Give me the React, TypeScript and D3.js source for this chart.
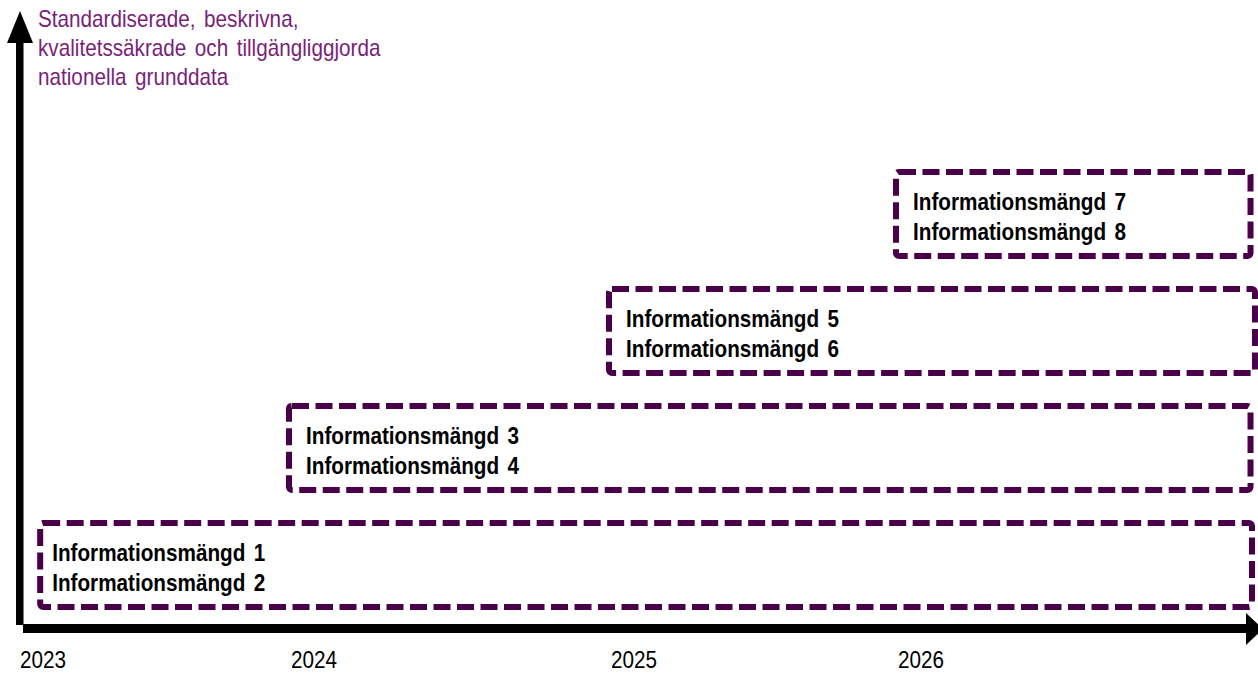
import React from 'react'
import * as d3 from 'd3'

// y-axis title, three lines
const titleLines = [
  'Standardiserade, beskrivna,',
  'kvalitetssäkrade och tillgängliggjorda',
  'nationella grunddata',
]

// year ticks on the time axis
const yearLabels = ['2023', '2024', '2025', '2026']
const yearValues = [2023, 2024, 2025, 2026]

// one dashed box per step (start / end in years, level from the bottom)
const boxStart = [2023.075, 2024, 2025, 2026.0]
const boxEnd = [2027.2, 2027.195, 2027.21, 2027.195]
const boxLevel = [0, 1, 2, 3]
const boxText = [
  ['Informationsmängd 1', 'Informationsmängd 2'],
  ['Informationsmängd 3', 'Informationsmängd 4'],
  ['Informationsmängd 5', 'Informationsmängd 6'],
  ['Informationsmängd 7', 'Informationsmängd 8'],
]

const W = 1258
const H = 673
const PURPLE = '#4a0048'
const TITLE_PURPLE = '#7a1f78'
const FONT = '"Liberation Sans", Arial, sans-serif'

export default function App() {
  const x = d3
    .scaleLinear()
    .domain([2023, 2024, 2025, 2026, 2027.2])
    .range([20, 289, 609, 896, 1252])

  const y = d3.scaleLinear().domain([0, 1]).range([523, 406])
  const boxH = 84

  const squash = (tx: number, ty: number) => `translate(${tx},${ty}) scale(0.9,1)`

  return (
    <svg
      width={W}
      height={H}
      style={{ position: 'absolute', left: 0, top: 0, background: '#fff' }}
      fontFamily={FONT}
    >
      {/* y axis arrow */}
      <rect x={16} y={40} width={7.5} height={585} fill="#000" />
      <polygon points="7,43 33,43 20,11" fill="#000" />

      {/* x axis arrow */}
      <rect x={23} y={624} width={1225} height={9} fill="#000" />
      <polygon points="1246,613 1246,645 1263,629" fill="#000" />

      {titleLines.map((t, i) => (
        <text
          key={t}
          transform={squash(38, 27 + i * 29)}
          fontSize={23}
          fill={TITLE_PURPLE}
          wordSpacing={3}
        >
          {t}
        </text>
      ))}

      {boxStart.map((s, i) => {
        const x0 = x(s)
        const x1 = x(boxEnd[i])
        const top = y(boxLevel[i])
        return (
          <g key={i}>
            <rect
              x={x0}
              y={top}
              width={x1 - x0}
              height={boxH}
              rx={3}
              fill="none"
              stroke={PURPLE}
              strokeWidth={6}
              strokeDasharray="17 6.5"
            />
            {boxText[i].map((t, j) => (
              <text
                key={t}
                transform={squash(x0 + (i === 0 ? 12 : 17), top + 38 + j * 30)}
                fontSize={23}
                fontWeight="bold"
                fill="#000"
                wordSpacing={3}
              >
                {t}
              </text>
            ))}
          </g>
        )
      })}

      {yearLabels.map((lab, i) => (
        <text
          key={lab}
          transform={squash(x(yearValues[i]) + (i === 0 ? 0 : 2), 668)}
          fontSize={23}
          fill="#000"
        >
          {lab}
        </text>
      ))}
    </svg>
  )
}
